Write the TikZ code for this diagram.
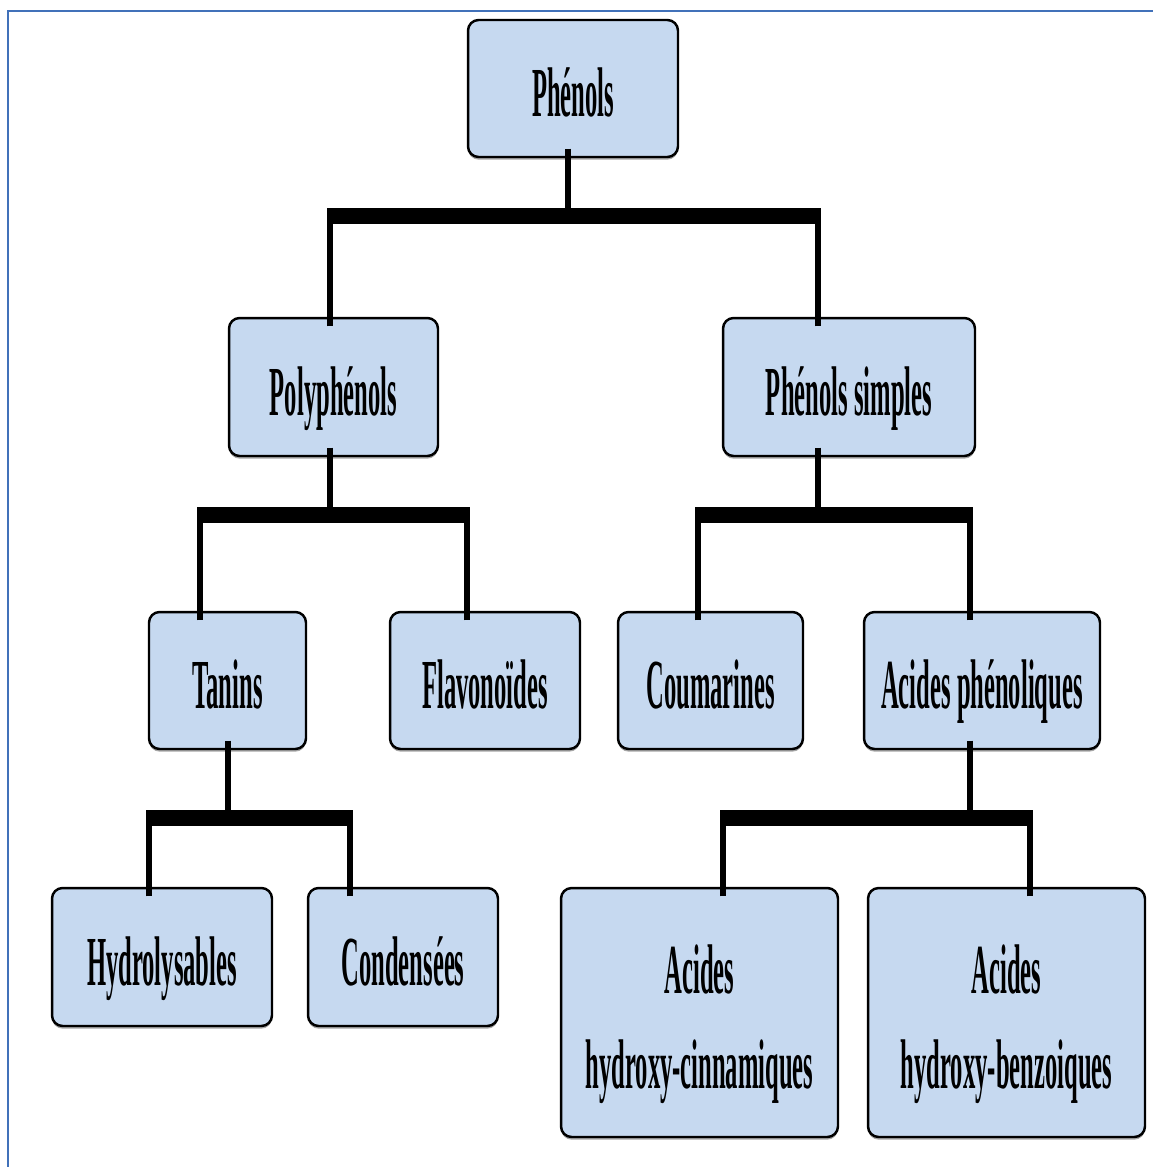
\documentclass[tikz,border=0pt]{standalone}
\usepackage{fontspec}
\newfontfamily\boxfont{Liberation Serif}[FakeStretch=0.35]
\usepackage{tikz}
\usetikzlibrary{shadows}

\definecolor{phenolfill}{RGB}{198,217,240}
\definecolor{cadreblue}{RGB}{65,113,185}

\tikzset{
famille/.style={draw, fill=phenolfill, line width=1.4pt, rounded corners=6pt, align=center, inner sep=0pt,
  font=\boxfont\bfseries\fontsize{40}{54}\selectfont, text height=32pt, text depth=0pt,
  drop shadow={shadow xshift=0pt, shadow yshift=-1.5pt, fill=black!70, opacity=0.5}},
tige/.style={line width=3.4pt, shorten <=-5.5pt},
barre/.style={line width=9.6pt, shorten <=-1.7pt, shorten >=-1.7pt}
}

\begin{document}
\begin{tikzpicture}[x=0.02cm, y=-0.02cm]
\useasboundingbox (0,0) rectangle (1153,1167);
\draw[line width=1.1pt, cadreblue] (8,1167) |- (1153,11);

\node[famille, minimum width=4.2cm, minimum height=2.74cm] (phenols) at (573,88.5) {Phénols};
\node[famille, minimum width=4.18cm, minimum height=2.76cm] (poly) at (333.5,387) {Polyphénols};
\node[famille, minimum width=5.04cm, minimum height=2.76cm] (simples) at (849,387) {Phénols simples};
\node[famille, minimum width=3.14cm, minimum height=2.74cm] (tanins) at (227.5,680.5) {Tanins};
\node[famille, minimum width=3.8cm, minimum height=2.74cm] (flavo) at (485,680.5) {Flavonoïdes};
\node[famille, minimum width=3.7cm, minimum height=2.74cm] (couma) at (710.5,680.5) {Coumarines};
\node[famille, minimum width=4.72cm, minimum height=2.74cm] (acides) at (982,680.5) {Acides phénoliques};
\node[famille, minimum width=4.4cm, minimum height=2.76cm] (hydro) at (162,957) {Hydrolysables};
\node[famille, minimum width=3.8cm, minimum height=2.76cm] (conde) at (403,957) {Condensées};
\node[famille, minimum width=5.54cm, minimum height=4.98cm, text height=86pt] (cinna) at (699.5,1012.5) {Acides\\hydroxy-cinnamiques};
\node[famille, minimum width=5.54cm, minimum height=4.98cm, text height=86pt] (benzo) at (1006.5,1012.5) {Acides\\hydroxy-benzoiques};

% Phénols
\coordinate (j1) at (568,216);
\coordinate (b1g) at (330,216);
\coordinate (b1d) at (818,216);
\draw[tige] (phenols.south -| j1) -- (j1);
\draw[tige] (poly.north -| b1g) -- (b1g);
\draw[tige] (simples.north -| b1d) -- (b1d);
\draw[barre] (b1g) -- (b1d);

% Polyphénols
\coordinate (j2) at (330,515);
\coordinate (b2g) at (200,515);
\coordinate (b2d) at (467,515);
\draw[tige] (poly.south -| j2) -- (j2);
\draw[tige] (tanins.north -| b2g) -- (b2g);
\draw[tige] (flavo.north -| b2d) -- (b2d);
\draw[barre] (b2g) -- (b2d);

% Phénols simples
\coordinate (j3) at (818,515);
\coordinate (b3g) at (698,515);
\coordinate (b3d) at (970,515);
\draw[tige] (simples.south -| j3) -- (j3);
\draw[tige] (couma.north -| b3g) -- (b3g);
\draw[tige] (acides.north -| b3d) -- (b3d);
\draw[barre] (b3g) -- (b3d);

% Tanins
\coordinate (j4) at (228,818);
\coordinate (b4g) at (149,818);
\coordinate (b4d) at (350,818);
\draw[tige] (tanins.south -| j4) -- (j4);
\draw[tige] (hydro.north -| b4g) -- (b4g);
\draw[tige] (conde.north -| b4d) -- (b4d);
\draw[barre] (b4g) -- (b4d);

% Acides phénoliques
\coordinate (j5) at (970,818);
\coordinate (b5g) at (723,818);
\coordinate (b5d) at (1030,818);
\draw[tige] (acides.south -| j5) -- (j5);
\draw[tige] (cinna.north -| b5g) -- (b5g);
\draw[tige] (benzo.north -| b5d) -- (b5d);
\draw[barre] (b5g) -- (b5d);
\end{tikzpicture}
\end{document}
